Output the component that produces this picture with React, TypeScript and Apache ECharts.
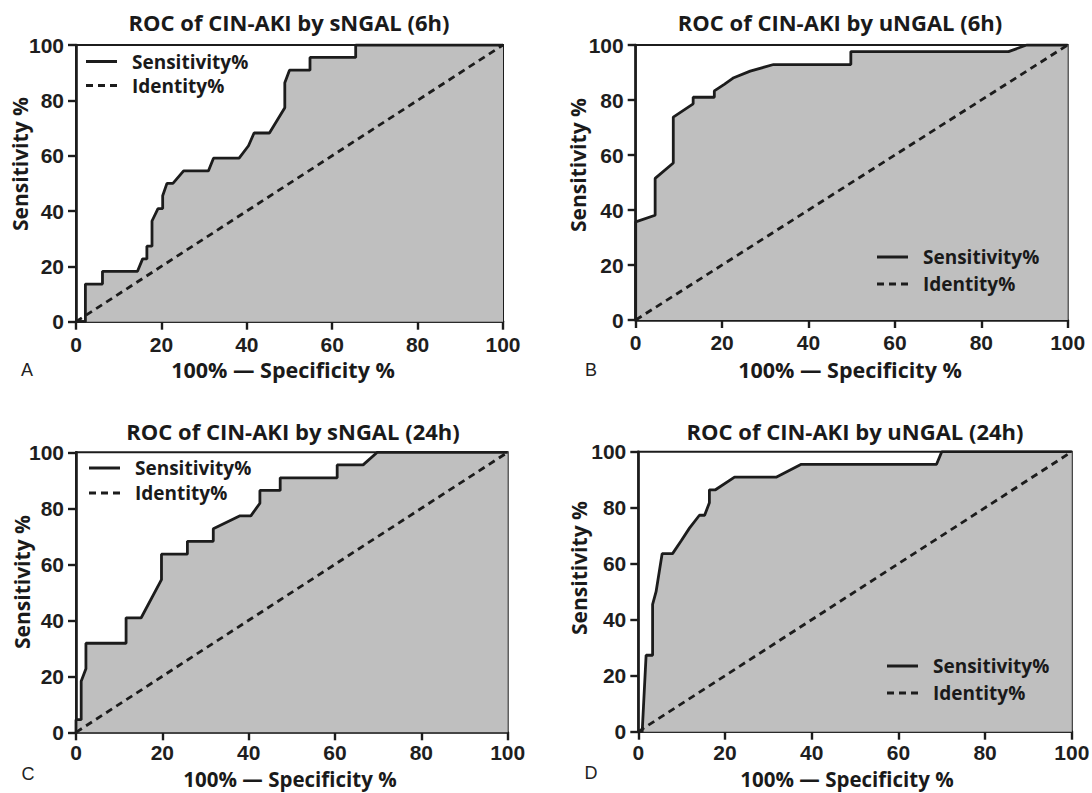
import React, { useEffect, useRef } from "react";
import * as echarts from "echarts";

// ---- Data ----
const panelTitles = [
  "ROC of CIN-AKI by sNGAL (6h)",
  "ROC of CIN-AKI by uNGAL (6h)",
  "ROC of CIN-AKI by sNGAL (24h)",
  "ROC of CIN-AKI by uNGAL (24h)",
];
const panelLetters = ["A", "B", "C", "D"];
const xAxisTitle = "100% \u2014 Specificity %";
const yAxisTitle = "Sensitivity %";
const seriesNames = ["Sensitivity%", "Identity%"];
const axisTicks = [0, 20, 40, 60, 80, 100];

// Panel A: sNGAL 6h  (x = 100% - specificity, y = sensitivity)
const rocA_x = [0, 2.2, 2.2, 6.2, 6.2, 14.4, 15.6, 16.6, 16.6, 17.8, 17.8, 19.2, 20.3, 20.3, 21.3, 22.7, 25.2, 31.0, 32.2, 38.2, 40.4, 41.7, 45.3, 48.9, 48.9, 50.0, 54.8, 54.8, 65.5, 65.5, 100];
const rocA_y = [0, 0, 13.6, 13.6, 18.2, 18.2, 22.7, 22.7, 27.3, 27.3, 36.4, 40.9, 40.9, 45.5, 50, 50, 54.5, 54.5, 59.1, 59.1, 63.6, 68.2, 68.2, 77.3, 86.4, 90.9, 90.9, 95.5, 95.5, 100, 100];

// Panel B: uNGAL 6h
const rocB_x = [0, 0, 4.5, 4.5, 8.7, 8.7, 13.3, 13.3, 18.2, 18.2, 20.5, 22.7, 26.5, 31.9, 49.8, 49.8, 86.3, 90.5, 100];
const rocB_y = [0, 35.7, 38.1, 51.5, 57.1, 73.8, 78.6, 81.0, 81.0, 83.3, 85.7, 88.1, 90.5, 92.9, 92.9, 97.6, 97.6, 100, 100];

// Panel C: sNGAL 24h
const rocC_x = [0, 0, 1.2, 1.2, 2.3, 2.3, 11.6, 11.6, 15.1, 19.8, 19.8, 25.8, 25.8, 31.8, 31.8, 38.0, 40.5, 42.6, 42.6, 47.3, 47.3, 60.5, 60.5, 66.5, 69.8, 100];
const rocC_y = [0, 4.5, 4.5, 18.2, 22.7, 31.8, 31.8, 40.9, 40.9, 54.5, 63.6, 63.6, 68.2, 68.2, 72.7, 77.3, 77.3, 81.8, 86.4, 86.4, 90.9, 90.9, 95.5, 95.5, 100, 100];

// Panel D: uNGAL 24h
const rocD_x = [0, 0.9, 1.2, 1.8, 3.3, 3.3, 4.1, 5.5, 7.9, 9.9, 11.8, 14.1, 15.3, 16.4, 16.4, 17.8, 22.2, 31.8, 37.6, 68.8, 70.0, 100];
const rocD_y = [0, 0, 9.1, 27.3, 27.3, 45.5, 50.0, 63.6, 63.6, 68.2, 72.7, 77.3, 77.3, 81.8, 86.4, 86.4, 90.9, 90.9, 95.5, 95.5, 100, 100];

const identity_x = [0, 100];
const identity_y = [0, 100];

const rocX = [rocA_x, rocB_x, rocC_x, rocD_x];
const rocY = [rocA_y, rocB_y, rocC_y, rocD_y];

// ---- Layout (pixels) ----
const grids = [
  { left: 76, top: 45, width: 427, height: 276.7 },
  { left: 635.7, top: 45, width: 432, height: 275 },
  { left: 76, top: 452.3, width: 431.7, height: 280 },
  { left: 638.3, top: 451.7, width: 433.5, height: 280 },
];
const xLabelMargin = [12, 12, 10, 10];
const titlePos = [
  [289, 22],
  [840, 22],
  [293, 431],
  [855, 431],
];
const yTitlePos = [
  [20, 164],
  [578, 165],
  [22, 582],
  [579, 568],
];
const xTitlePos = [
  [283, 369],
  [850, 369],
  [290, 779],
  [847, 779],
];
const xTitleSize = [21.5, 21.5, 20.5, 20.5];
const letterPos = [
  [27, 370],
  [591, 370],
  [28, 774],
  [591, 773],
];
const legendPos = [
  { left: 86, top: 52, gap: 5 },
  { left: 877, top: 247.5, gap: 8 },
  { left: 89, top: 458.5, gap: 6 },
  { left: 887, top: 656.5, gap: 8 },
];

const INK = "#1c1c1c";
const FILL = "#bfbfbf";
const TITLE_FONT = "'Open Sans', 'DejaVu Sans', sans-serif";
const TICK_FONT = "'Liberation Sans', Arial, sans-serif";
const SOLID_ICON = "path://M0 0 H31 V3 H0 Z";
const DASH_ICON = "path://M0 0 H7 V3 H0 Z M12 0 H19 V3 H12 Z M24 0 H31 V3 H24 Z";

function pairs(xs: number[], ys: number[]) {
  return xs.map((x, i) => [x, ys[i]]);
}

export default function App() {
  const ref = useRef<HTMLDivElement>(null);

  useEffect(() => {
    if (!ref.current) return;
    const chart = echarts.init(ref.current, null, { renderer: "svg" });

    const axisCommon = {
      type: "value" as const,
      min: 0,
      max: 100,
      interval: 20,
      splitLine: { show: false },
      axisLine: { show: true, onZero: false, lineStyle: { color: INK, width: 2.6 } },
      axisTick: { show: true, inside: false, length: 8, lineStyle: { color: INK, width: 2.4 } },
      axisLabel: {
        color: "#1e1e1e",
        fontSize: 21,
        fontWeight: "bold" as const,
        fontFamily: TICK_FONT,
      },
    };

    const series: any[] = [];
    for (let i = 0; i < 4; i++) {
      series.push({
        name: seriesNames[0],
        type: "line",
        xAxisIndex: i,
        yAxisIndex: i,
        data: pairs(rocX[i], rocY[i]),
        symbol: "none",
        lineStyle: { color: INK, width: 2.8 },
        itemStyle: { color: INK },
        areaStyle: { color: FILL, opacity: 1 },
        z: 2,
      });
      series.push({
        name: seriesNames[1],
        type: "line",
        xAxisIndex: i,
        yAxisIndex: i,
        data: pairs(identity_x, identity_y),
        symbol: "none",
        lineStyle: { color: INK, width: 2.8, type: [7, 5] },
        itemStyle: { color: INK },
        z: 3,
      });
    }

    const textStyleBase = {
      fontWeight: "bold",
      fontFamily: TITLE_FONT,
      fill: "#1a1a1a",
      align: "center",
      verticalAlign: "middle",
    };

    const graphic: any[] = [];
    for (let i = 0; i < 4; i++) {
      graphic.push({
        type: "text",
        x: titlePos[i][0],
        y: titlePos[i][1],
        style: { ...textStyleBase, text: panelTitles[i], fontSize: 22 },
      });
      graphic.push({
        type: "text",
        x: yTitlePos[i][0],
        y: yTitlePos[i][1],
        rotation: Math.PI / 2,
        style: { ...textStyleBase, text: yAxisTitle, fontSize: 21 },
      });
      graphic.push({
        type: "text",
        x: xTitlePos[i][0],
        y: xTitlePos[i][1],
        style: { ...textStyleBase, text: xAxisTitle, fontSize: xTitleSize[i] },
      });
      graphic.push({
        type: "text",
        x: letterPos[i][0],
        y: letterPos[i][1],
        style: {
          text: panelLetters[i],
          fontSize: 18,
          fontFamily: TICK_FONT,
          fill: "#222",
          align: "center",
          verticalAlign: "middle",
        },
      });
    }

    chart.setOption({
      animation: false,
      backgroundColor: "#ffffff",
      grid: grids.map((g) => ({
        left: g.left,
        top: g.top,
        width: g.width,
        height: g.height,
        containLabel: false,
        outerBoundsMode: "none",
        show: true,
        backgroundColor: "#ffffff",
        borderColor: INK,
        borderWidth: 2,
      })),
      xAxis: grids.map((_, i) => ({
        ...axisCommon,
        gridIndex: i,
        axisLabel: { ...axisCommon.axisLabel, margin: xLabelMargin[i], customValues: axisTicks },
      })),
      yAxis: grids.map((_, i) => ({
        ...axisCommon,
        gridIndex: i,
        axisLabel: { ...axisCommon.axisLabel, margin: 12 },
      })),
      legend: legendPos.map((l) => ({
        left: l.left,
        top: l.top,
        padding: 0,
        orient: "vertical",
        data: [
          { name: seriesNames[0], icon: SOLID_ICON },
          { name: seriesNames[1], icon: DASH_ICON },
        ],
        itemWidth: 31,
        itemHeight: 3,
        itemGap: l.gap,
        selectedMode: false,
        itemStyle: { color: INK, borderWidth: 0 },
        textStyle: {
          color: "#1a1a1a",
          fontSize: 19,
          fontWeight: "bold",
          fontFamily: TITLE_FONT,
          padding: [0, 0, 0, 10],
        },
      })),
      series,
      graphic,
    });

    return () => chart.dispose();
  }, []);

  return (
    <div
      ref={ref}
      style={{ position: "absolute", left: 0, top: 0, width: 1092, height: 793 }}
    />
  );
}
